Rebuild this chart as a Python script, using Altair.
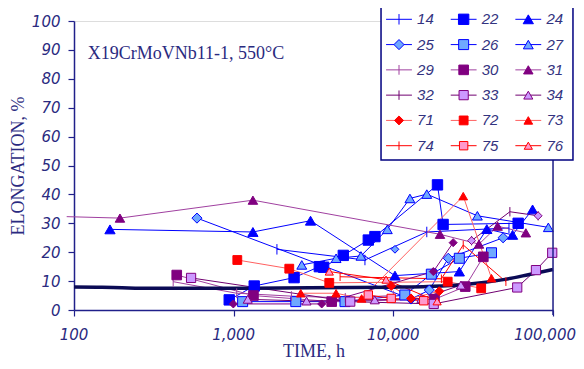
import altair as alt
import pandas as pd

# ---------------- data ----------------
series_names = ["14", "22", "24", "25", "26", "27", "29", "30", "31",
                "32", "33", "34", "71", "72", "73", "74", "75", "76",
                "P1", "P2", "B1"]
legend_names = series_names[:18]
marker_only = ["P2", "B1"]

t14 = [1866, 6640, 16200, 53000]
v14 = [21.0, 17.3, 27.0, 28.4]
t22 = [938, 1345, 2390, 3440, 3660, 4860, 6970, 7670, 18900, 20500, 60500]
v22 = [3.5, 8.3, 11.2, 15.0, 14.8, 18.9, 24.2, 25.4, 43.3, 29.6, 30.0]
t24 = [168, 1320, 3030, 10240, 25900, 38500, 55800, 74500]
v24 = [27.9, 27.0, 30.9, 11.9, 13.3, 28.0, 26.0, 34.8]
t25 = [589, 12900, 16800, 22100, 48700]
v25 = [31.8, 3.8, 6.9, 17.9, 25.0]
t26 = [1138, 2450, 4980, 11800, 17300, 25900, 41200]
v26 = [2.9, 2.9, 2.9, 5.2, 12.4, 17.9, 19.8]
t27 = [2670, 4380, 6270, 9170, 12700, 16200, 33600, 93500]
v27 = [15.6, 17.9, 18.7, 27.9, 38.6, 40.1, 32.6, 28.6]
t29 = [418, 1045, 2300, 5000, 10000]
v29 = [9.8, 5.8, 4.8, 4.2, 5.0]
t30 = [440, 1330, 4110, 18100, 28200, 36600]
v30 = [12.1, 5.0, 2.9, 3.7, 8.1, 18.4]
t31 = [90, 194, 1320, 19600, 34400, 45000, 67600]
v31 = [32.3, 31.8, 38.0, 26.2, 22.8, 29.0, 26.7]
t32 = [30900, 53700, 80700]
v32 = [24.0, 34.0, 32.6]
t33 = [541, 5370, 17900, 59700, 78200, 98900]
v33 = [11.1, 2.9, 2.1, 7.8, 13.8, 19.8]
t34 = [1225, 2860, 7650, 15000, 26500]
v34 = [3.7, 3.1, 3.5, 4.0, 8.6]
t71 = [9700, 12900, 19400]
v71 = [8.3, 4.0, 6.5]
t72 = [1054, 2230, 3970, 21900, 35500]
v72 = [17.3, 14.3, 9.4, 9.8, 7.5]
t73 = [2630, 4380, 6330, 27400, 41200]
v73 = [5.8, 5.8, 4.0, 39.4, 11.0]
t74 = [4640, 20000, 27400, 50700]
v74 = [11.5, 10.8, 22.5, 9.8]
t75 = [6970, 9700, 15500]
v75 = [5.2, 4.0, 3.2]
t76 = [3970, 9000, 18800]
v76 = [13.3, 10.5, 3.0]
tP1 = [995, 3560, 17800, 23700]
vP1 = [2.1, 2.1, 13.3, 23.3]
tP2 = [30900, 80700]
vP2 = [24.0, 32.6]
tB1 = [10240]
vB1 = [21.0]

ref_t = [100, 150, 200, 300, 500, 1000, 3000, 10000, 20000, 30000, 50000, 70000, 100000]
ref_v = [8.0, 7.9, 7.7, 7.5, 7.5, 7.5, 7.7, 7.9, 8.3, 9.0, 10.6, 12.2, 14.0]

x_ticks = [100, 1000, 10000, 100000]
y_ticks = list(range(0, 101, 10))
note_text = "X19CrMoVNb11-1, 550°C"
note_t, note_v = 122, 86.7

series_data = {
    "14": (t14, v14), "22": (t22, v22), "24": (t24, v24), "25": (t25, v25),
    "26": (t26, v26), "27": (t27, v27), "29": (t29, v29), "30": (t30, v30),
    "31": (t31, v31), "32": (t32, v32), "33": (t33, v33), "34": (t34, v34),
    "71": (t71, v71), "72": (t72, v72), "73": (t73, v73), "74": (t74, v74),
    "75": (t75, v75), "76": (t76, v76), "P1": (tP1, vP1), "P2": (tP2, vP2),
    "B1": (tB1, vB1),
}

# ---------------- styles ----------------
BLUE, LBLUE = "#0000FF", "#6FA8FF"
PURL, PURD, PURM, LVIO = "#A040A0", "#700070", "#800080", "#CC99FF"
RED, LRED, PINK = "#FF0000", "#FF6060", "#FF99CC"
TICK = "M0,-1L0,1"
NAVY = "#20208A"
TXT = "#2A2A80"

line_color = {"14": BLUE, "22": BLUE, "24": BLUE, "25": BLUE, "26": BLUE, "27": BLUE,
              "29": PURL, "30": PURL, "31": PURL, "32": PURD, "33": PURD, "34": PURD,
              "71": LRED, "72": LRED, "73": LRED, "74": RED, "75": RED, "76": RED,
              "P1": PURM, "P2": PURD, "B1": BLUE}
fill_color = {"14": "transparent", "22": BLUE, "24": BLUE, "25": LBLUE, "26": LBLUE, "27": LBLUE,
              "29": "transparent", "30": PURM, "31": PURM, "32": "transparent", "33": LVIO, "34": LVIO,
              "71": RED, "72": RED, "73": RED, "74": "transparent", "75": PINK, "76": PINK,
              "P1": PURM, "P2": LVIO, "B1": LBLUE}
edge_color = {"14": BLUE, "22": BLUE, "24": BLUE, "25": BLUE, "26": BLUE, "27": BLUE,
              "29": PURL, "30": PURM, "31": PURM, "32": PURD, "33": PURM, "34": PURM,
              "71": RED, "72": RED, "73": RED, "74": RED, "75": RED, "76": RED,
              "P1": PURM, "P2": PURM, "B1": BLUE}
shape_of = {"14": TICK, "22": "square", "24": "triangle-up", "25": "diamond", "26": "square",
            "27": "triangle-up", "29": TICK, "30": "square", "31": "triangle-up", "32": TICK,
            "33": "square", "34": "triangle-up", "71": "diamond", "72": "square",
            "73": "triangle-up", "74": TICK, "75": "square", "76": "triangle-up",
            "P1": "diamond", "P2": "diamond", "B1": "diamond"}
size_by_shape = {TICK: 110, "square": 60, "triangle-up": 62, "diamond": 55}

rows = []
for name in series_names:
    ts, vs = series_data[name]
    for t, v in zip(ts, vs):
        rows.append({"series": name, "time": t, "elong": v})
df = pd.DataFrame(rows)
ref_df = pd.DataFrame({"time": ref_t, "elong": ref_v})

color_sc = alt.Scale(domain=series_names, range=[line_color[s] for s in series_names])
fill_sc = alt.Scale(domain=series_names, range=[fill_color[s] for s in series_names])
stroke_sc = alt.Scale(domain=series_names, range=[edge_color[s] for s in series_names])
shape_sc = alt.Scale(domain=series_names, range=[shape_of[s] for s in series_names])
size_sc = alt.Scale(domain=series_names, range=[size_by_shape[shape_of[s]] for s in series_names])

W, H = 479, 289
xs = alt.Scale(type="log", domain=[x_ticks[0], x_ticks[-1]])
ys = alt.Scale(domain=[0, 100])

x_axis = alt.Axis(values=x_ticks, labels=False, title="TIME, h", grid=False,
                  tickSize=6, tickColor=NAVY, tickWidth=1.2,
                  domainColor=NAVY, domainWidth=1.5,
                  titleFont="Liberation Serif", titleFontSize=18, titleFontWeight="normal",
                  titleColor=TXT, titleY=46, titleBaseline="alphabetic")
y_axis = alt.Axis(values=y_ticks, title="ELONGATION, %", grid=False,
                  labelFont="DejaVu Sans", labelFontStyle="italic", labelFontSize=15,
                  labelColor=TXT, labelPadding=8, tickSize=6, tickColor=NAVY, tickWidth=1.2,
                  domainColor=NAVY, domainWidth=1.5, labelFlush=False,
                  titleFont="Liberation Serif", titleFontSize=18, titleFontWeight="normal",
                  titleColor=TXT, titleX=-56, titleBaseline="middle", titleAngle=-90)

X = alt.X("time:Q", scale=xs, axis=x_axis)
Y = alt.Y("elong:Q", scale=ys, axis=y_axis)

base = alt.Chart(df)
lines = base.transform_filter(
    alt.FieldOneOfPredicate(field="series", oneOf=[s for s in series_names if s not in marker_only])
).mark_line(strokeWidth=1, clip=False).encode(
    x=X, y=Y,
    color=alt.Color("series:N", scale=color_sc, legend=None),
    detail="series:N",
)
ref_line = alt.Chart(ref_df).mark_line(strokeWidth=3.5, color="#0B0B55", interpolate="monotone").encode(
    x=X, y=Y,
)
points = base.transform_filter(alt.datum.time >= x_ticks[0]).mark_point(
    filled=True, opacity=1, strokeWidth=1).encode(
    x=X, y=Y,
    shape=alt.Shape("series:N", scale=shape_sc, legend=None),
    fill=alt.Fill("series:N", scale=fill_sc, legend=None),
    stroke=alt.Stroke("series:N", scale=stroke_sc, legend=None),
    size=alt.Size("series:N", scale=size_sc, legend=None),
)
border_df = pd.DataFrame({"time": [x_ticks[-1]], "elong": [-1.7], "elong_top": [100]})
border = alt.Chart(border_df).mark_rule(color=NAVY, strokeWidth=1.5).encode(
    x=X, y=Y, y2="elong_top:Q",
)
note_df = pd.DataFrame({"time": [note_t], "elong": [note_v], "label": [note_text]})
note = alt.Chart(note_df).mark_text(align="left", baseline="alphabetic", font="Liberation Serif",
                                   fontSize=18, color=TXT).encode(
    x=X, y=Y, text="label:N",
)
# x tick labels as text (last one kept inside the page)
xl_df = pd.DataFrame({"time": x_ticks, "elong": [0] * len(x_ticks),
                      "label": [f"{v:,}" for v in x_ticks]})
xlab_style = dict(baseline="top", dy=18, font="DejaVu Sans", fontStyle="italic",
                  fontSize=15, color=TXT)
xlab_mid = alt.Chart(xl_df).transform_filter(alt.datum.time < x_ticks[-1]).mark_text(
    align="center", **xlab_style).encode(x=X, y=Y, text="label:N")
xlab_end = alt.Chart(xl_df).transform_filter(alt.datum.time >= x_ticks[-1]).mark_text(
    align="right", dx=23, **xlab_style).encode(x=X, y=Y, text="label:N")
main = alt.layer(lines, ref_line, points, border, note, xlab_mid, xlab_end)

# ---------------- legend (3 columns x 6 rows) ----------------
COL0, COLP = 325.0, 64.65   # px of first symbol centre, column pitch
ROW0, ROWP = -1.7, 25.28     # px of first row centre, row pitch
lx = alt.Scale(domain=[-COL0 / COLP, (W - COL0) / COLP])
ly = alt.Scale(domain=[-ROW0 / ROWP, -ROW0 / ROWP + H / ROWP], reverse=True)
leg = pd.DataFrame({"series": legend_names,
                    "col": [i % 3 for i in range(len(legend_names))],
                    "row": [i // 3 for i in range(len(legend_names))]})
leg["xa"] = leg["col"] - 0.2
leg["xb"] = leg["col"] + 0.2
leg["xl"] = leg["col"] + 0.28
box_df = pd.DataFrame({"c0": [-0.278], "c1": [2.691], "r0": [-0.605], "r1": [5.565]})
box = alt.Chart(box_df).mark_rect(fill="white", stroke="#000080", strokeWidth=1.5).encode(
    x=alt.X("c0:Q", scale=lx, axis=None), x2="c1:Q",
    y=alt.Y("r0:Q", scale=ly, axis=None), y2="r1:Q",
)
lbase = alt.Chart(leg)
leg_lines = lbase.mark_rule(strokeWidth=1).encode(
    x=alt.X("xa:Q", scale=lx, axis=None), x2="xb:Q",
    y=alt.Y("row:Q", scale=ly, axis=None),
    color=alt.Color("series:N", scale=color_sc, legend=None),
)
leg_pts = lbase.mark_point(filled=True, opacity=1, strokeWidth=1).encode(
    x=alt.X("col:Q", scale=lx, axis=None),
    y=alt.Y("row:Q", scale=ly, axis=None),
    shape=alt.Shape("series:N", scale=shape_sc, legend=None),
    fill=alt.Fill("series:N", scale=fill_sc, legend=None),
    stroke=alt.Stroke("series:N", scale=stroke_sc, legend=None),
    size=alt.Size("series:N", scale=size_sc, legend=None),
)
leg_txt = lbase.mark_text(align="left", baseline="middle", font="Liberation Sans",
                          fontStyle="italic", fontSize=15, color="#333380").encode(
    x=alt.X("xl:Q", scale=lx, axis=None),
    y=alt.Y("row:Q", scale=ly, axis=None),
    text="series:N",
)
legend = alt.layer(box, leg_lines, leg_pts, leg_txt)

chart = alt.layer(main, legend).resolve_scale(x="independent", y="independent").properties(
    width=W, height=H,
    padding={"left": 66, "top": 13, "right": 23, "bottom": 51},
    autosize=alt.AutoSizeParams(type="none"),
).configure_view(strokeWidth=0, stroke="transparent").configure(background="white")

chart.save("out.html", embed_options={"renderer": "svg", "actions": False})
